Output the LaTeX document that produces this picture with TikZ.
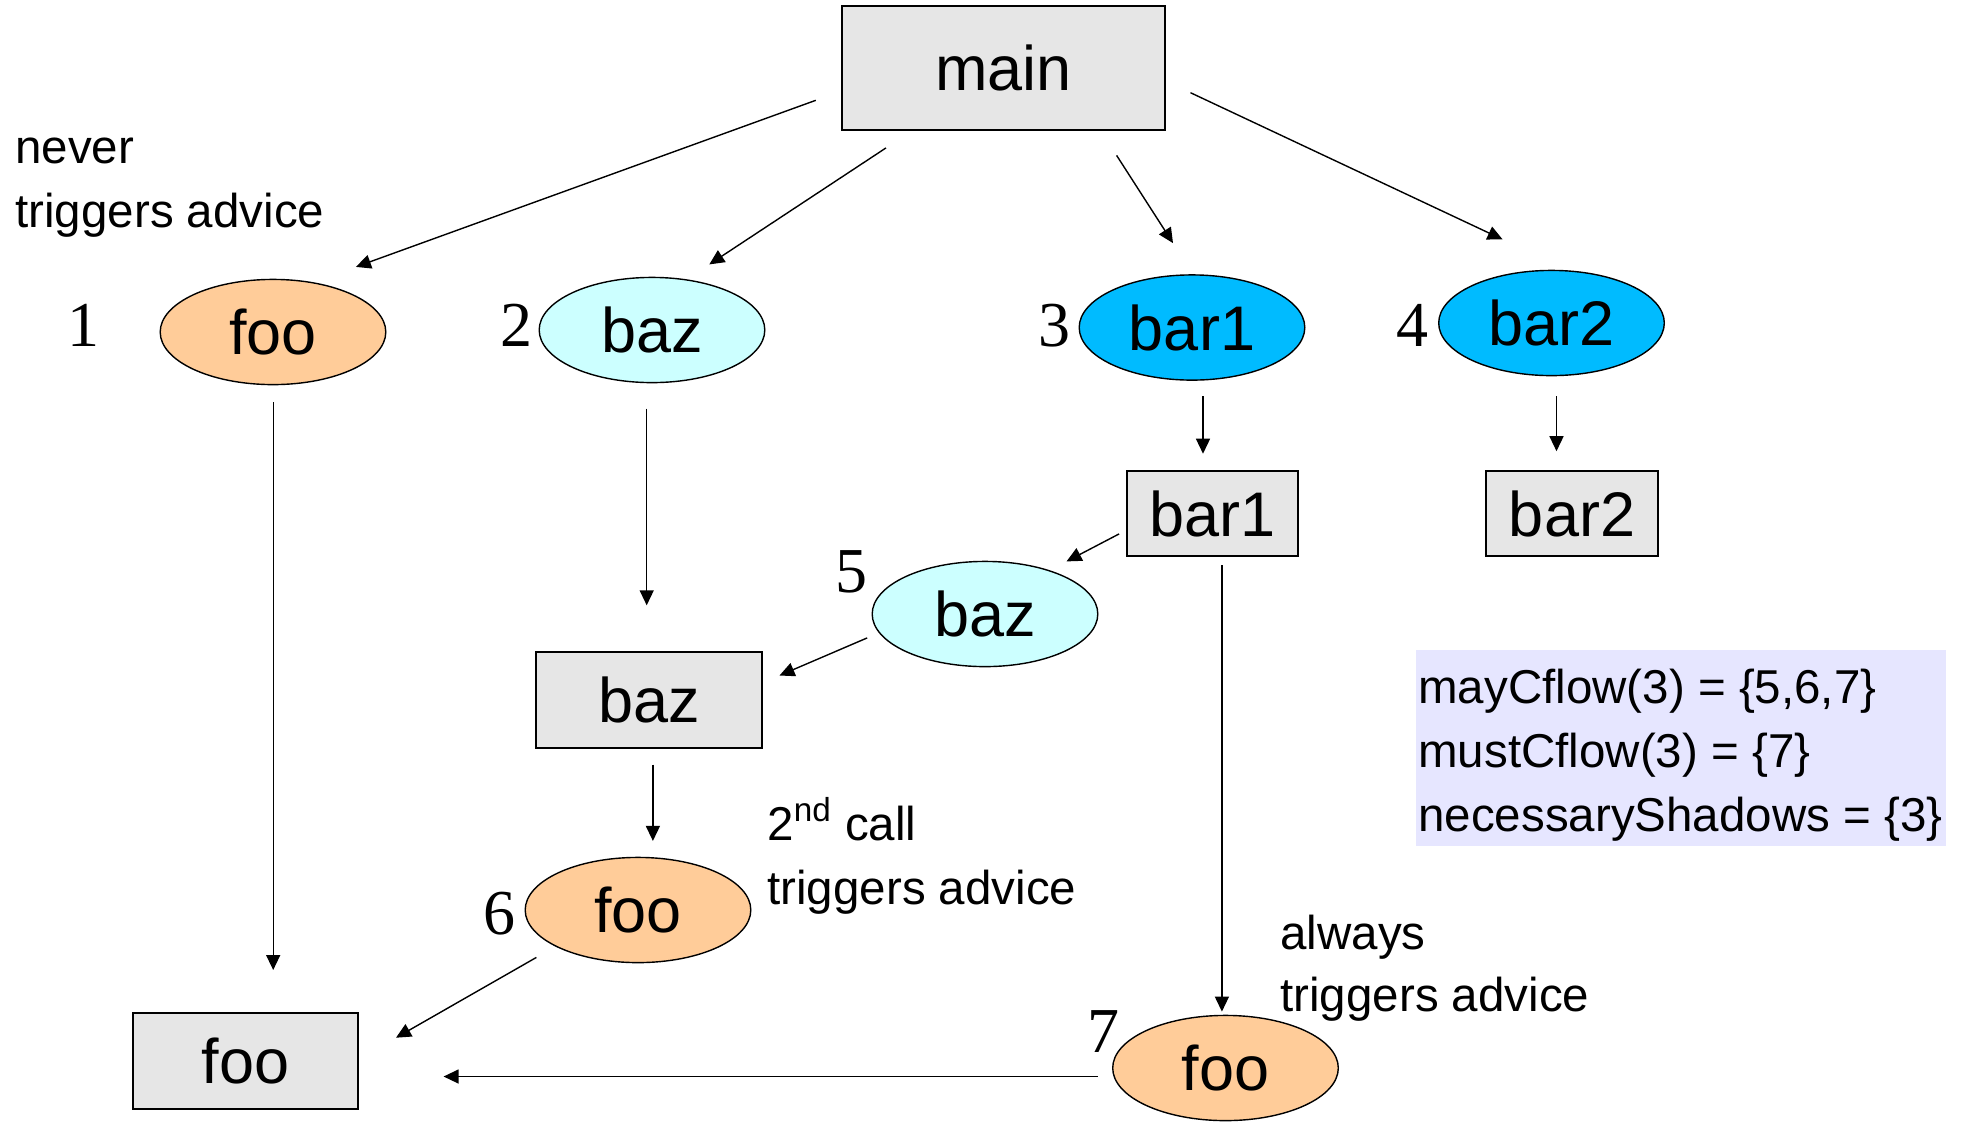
\documentclass[tikz,border=0pt]{standalone}
\usepackage{fontspec}
\setmainfont{Liberation Sans}
\newfontfamily\numfont{Liberation Serif}
\usetikzlibrary{shapes.geometric,arrows.meta,calc}

\definecolor{fooorange}{HTML}{FFCC99}
\definecolor{bazcyan}{HTML}{CCFFFF}
\definecolor{barblue}{HTML}{00BBFF}
\definecolor{boxgrey}{HTML}{E6E6E6}
\definecolor{infobg}{HTML}{E6E6FF}

\begin{document}
\begin{tikzpicture}[x=0.5pt,y=-0.5pt,
  callbox/.style={rectangle, draw=black, line width=0.9pt, fill=boxgrey, inner sep=0pt,
    font=\fontsize{31.5}{36}\selectfont},
  callell/.style={ellipse, draw=black, line width=0.7pt, inner sep=0pt,
    minimum width=112.8pt, minimum height=52.6pt, font=\fontsize{31.5}{36}\selectfont},
  fooell/.style={callell, fill=fooorange},
  bazell/.style={callell, fill=bazcyan},
  barell/.style={callell, fill=barblue},
  arr/.style={line width=0.7pt, -{Triangle[length=7.5pt,width=7pt]}},
  lbl/.style={anchor=base west, inner sep=0pt, font=\fontsize{23.75}{31.75}\selectfont},
  num/.style={anchor=base, inner sep=0pt, font=\numfont\fontsize{32}{36}\selectfont}
]
\useasboundingbox (0,0) rectangle (1965,1121);

% call-graph nodes: boxes are bodies, ellipses are call sites
\node[callbox, minimum width=161.5pt, minimum height=62pt] (main) at (1003.5,68) {main};

\node[fooell] (foo1) at (273,332) {foo};
\node[bazell] (baz2) at (652,330) {baz};
\node[barell] (bar1e) at (1192,327.5) {bar1};
\node[barell] (bar2e) at (1551.5,323) {bar2};

\node[callbox, minimum width=85.5pt, minimum height=42.5pt] (bar1b) at (1212.5,513.5) {bar1};
\node[callbox, minimum width=86pt, minimum height=42.5pt] (bar2b) at (1572,513.5) {bar2};

\node[bazell] (baz5) at (985,614) {baz};
\node[callbox, minimum width=113pt, minimum height=48pt] (bazb) at (649,700) {baz};
\node[fooell] (foo6) at (638,910) {foo};
\node[callbox, minimum width=112.5pt, minimum height=48pt] (foob) at (245.5,1061) {foo};
\node[fooell] (foo7) at (1225.5,1068) {foo};

% call-site numbers
\node[num] (n1) at (83,346) {1};
\node[num] (n2) at (516,346) {2};
\node[num] (n3) at (1054,346) {3};
\node[num] (n4) at (1412,346) {4};
\node[num] (n5) at (851,592) {5};
\node[num] (n6) at (499,934) {6};
\node[num] (n7) at (1103,1052) {7};

% edges
\draw[arr] ($(main)+(-187.7,32.3)$) -- ($(foo1)+(82.9,-65.1)$);
\draw[arr] ($(main)+(-117.5,79.9)$) -- ($(baz2)+(57.3,-65.6)$);
\draw[arr] ($(main)+(113.1,87.4)$) -- ($(bar1e)+(-19,-84.4)$);
\draw[arr] ($(main)+(187,24.7)$) -- ($(bar2e)+(-48.9,-83.6)$);
\draw[arr] ($(bar1e)+(11,68.5)$) -- ($(bar1b)+(-9.5,-59.8)$);
\draw[arr] ($(bar2e)+(5,73)$) -- ($(bar2b)+(-15.5,-62.3)$);
\draw[arr] ($(foo1)+(0.2,70.3)$) -- ($(foob)+(27.7,-91)$);
\draw[arr] ($(baz2)+(-5.3,78.5)$) -- ($(bazb)+(-2.3,-94.7)$);
\draw[arr] ($(bar1b)+(-93.4,20.4)$) -- ($(baz5)+(81.5,-52.6)$);
\draw[arr] ($(baz5)+(-117.8,23.9)$) -- ($(bazb)+(130.5,-24.5)$);
\draw[arr] ($(bazb)+(3.9,64.5)$) -- ($(foo6)+(14.9,-69.1)$);
\draw[arr] ($(foo6)+(-101.6,47.4)$) -- ($(foob)+(150.5,-23.3)$);
\draw[arr] ($(bar1b)+(9.4,51.7)$) -- ($(foo7)+(-3.6,-56.4)$);
\draw[arr] ($(foo7)+(-127.7,8.5)$) -- ($(foob)+(198.1,15.5)$);

% annotations
\node[lbl] (nv1) at (15,163) {never};
\node[lbl] (nv2) at (15,227) {triggers advice};
\node[lbl] (sc1) at (767,840) {2\textsuperscript{nd} call};
\node[lbl] (sc2) at (767,904) {triggers advice};
\node[lbl] (al1) at (1280,949) {always};
\node[lbl] (al2) at (1280,1011) {triggers advice};

% summary panel
\node[rectangle, fill=infobg, inner sep=0pt, minimum width=265pt, minimum height=98pt] (info) at (1681,748) {};
\node[lbl] (i1) at (1418,703) {mayCflow(3) = \{5,6,7\}};
\node[lbl] (i2) at (1418,767) {mustCflow(3) = \{7\}};
\node[lbl] (i3) at (1418,831) {necessaryShadows = \{3\}};
\end{tikzpicture}
\end{document}
